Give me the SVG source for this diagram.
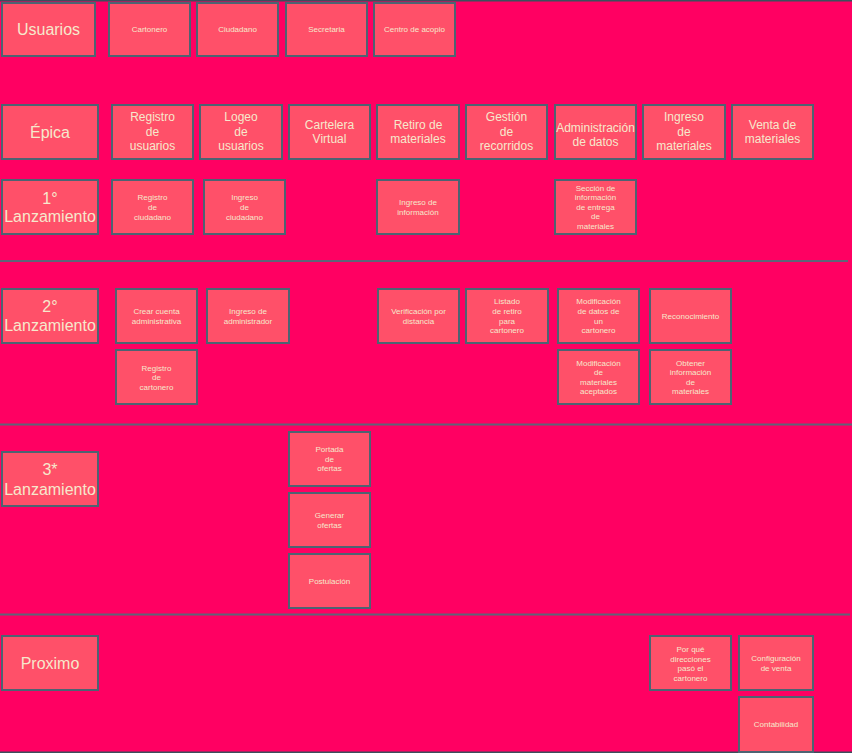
<svg xmlns="http://www.w3.org/2000/svg" width="852" height="753" viewBox="0 0 852 753">
<style>
.bg{fill:#ff0062}
.n rect{fill:#ff5069;stroke:#4d6372;stroke-width:2}
text{font-family:"Liberation Sans",Arial,sans-serif;fill:#f6e8cc;text-anchor:middle}
.big{font-size:16px}
.ep{font-size:12px}
.sm{font-size:8px}
.div{stroke:#5e6478;stroke-width:2}
</style>
<rect class="bg" x="0" y="0" width="852" height="753"/>
<line x1="0" y1="0.75" x2="852" y2="0.75" stroke="#3b4f5c" stroke-width="1.5"/>
<line x1="0" y1="752.25" x2="852" y2="752.25" stroke="#3b4f5c" stroke-width="1.5"/>
<g id="dividers">
<line class="div" x1="0" y1="261" x2="848" y2="261"/>
<line class="div" x1="0" y1="424.5" x2="852" y2="424.5"/>
<line class="div" x1="0" y1="614.5" x2="850" y2="614.5"/>
</g>
<g id="connectors"></g>

<g id="usuarios" class="n"><rect x="2" y="3" width="93" height="53"/><text class="big" x="48.5" y="35">Usuarios</text></g>
<g id="cartonero" class="n"><rect x="109" y="3" width="81" height="53"/><text class="sm" x="149.5" y="32">Cartonero</text></g>
<g id="ciudadano" class="n"><rect x="197" y="3" width="81" height="53"/><text class="sm" x="237.5" y="32">Ciudadano</text></g>
<g id="secretaria" class="n"><rect x="286" y="3" width="81" height="53"/><text class="sm" x="326.5" y="32">Secretaria</text></g>
<g id="centro" class="n"><rect x="374" y="3" width="81" height="53"/><text class="sm" x="414.5" y="32">Centro de acopio</text></g>

<g id="epica" class="n"><rect x="2" y="105" width="96" height="54"/><text class="big" x="50" y="138">Épica</text></g>
<g id="e-registro" class="n"><rect x="112" y="105" width="81" height="54"/><text class="ep" x="152.5" y="121">Registro</text><text class="ep" x="152.5" y="136">de</text><text class="ep" x="152.5" y="150">usuarios</text></g>
<g id="e-logeo" class="n"><rect x="200" y="105" width="82" height="54"/><text class="ep" x="241" y="121">Logeo</text><text class="ep" x="241" y="136">de</text><text class="ep" x="241" y="150">usuarios</text></g>
<g id="e-cartelera" class="n"><rect x="289" y="105" width="81" height="54"/><text class="ep" x="329.5" y="129">Cartelera</text><text class="ep" x="329.5" y="143">Virtual</text></g>
<g id="e-retiro" class="n"><rect x="377" y="105" width="82" height="54"/><text class="ep" x="418" y="129">Retiro de</text><text class="ep" x="418" y="143">materiales</text></g>
<g id="e-gestion" class="n"><rect x="466" y="105" width="81" height="54"/><text class="ep" x="506.5" y="121">Gestión</text><text class="ep" x="506.5" y="136">de</text><text class="ep" x="506.5" y="150">recorridos</text></g>
<g id="e-admin" class="n"><rect x="555" y="105" width="81" height="54"/><text class="ep" x="595.5" y="132">Administración</text><text class="ep" x="595.5" y="146">de datos</text></g>
<g id="e-ingreso" class="n"><rect x="643" y="105" width="82" height="54"/><text class="ep" x="684" y="121">Ingreso</text><text class="ep" x="684" y="136">de</text><text class="ep" x="684" y="150">materiales</text></g>
<g id="e-venta" class="n"><rect x="732" y="105" width="81" height="54"/><text class="ep" x="772.5" y="129">Venta de</text><text class="ep" x="772.5" y="143">materiales</text></g>

<g id="l1" class="n"><rect x="2" y="180" width="96" height="54"/><text class="big" x="50" y="204">1°</text><text class="big" x="50" y="222">Lanzamiento</text></g>
<g id="l1-registro" class="n"><rect x="112" y="180" width="81" height="54"/><text class="sm" x="152.5" y="200">Registro</text><text class="sm" x="152.5" y="210">de</text><text class="sm" x="152.5" y="220">ciudadano</text></g>
<g id="l1-ingreso" class="n"><rect x="204" y="180" width="81" height="54"/><text class="sm" x="244.5" y="200">Ingreso</text><text class="sm" x="244.5" y="210">de</text><text class="sm" x="244.5" y="220">ciudadano</text></g>
<g id="l1-info" class="n"><rect x="377" y="180" width="82" height="54"/><text class="sm" x="418" y="205">Ingreso de</text><text class="sm" x="418" y="215">información</text></g>
<g id="l1-seccion" class="n"><rect x="555" y="180" width="81" height="54"/><text class="sm" x="595.5" y="191">Sección de</text><text class="sm" x="595.5" y="200">información</text><text class="sm" x="595.5" y="210">de entrega</text><text class="sm" x="595.5" y="219">de</text><text class="sm" x="595.5" y="229">materiales</text></g>

<g id="l2" class="n"><rect x="2" y="289" width="96" height="54"/><text class="big" x="50" y="312">2°</text><text class="big" x="50" y="331">Lanzamiento</text></g>
<g id="l2-crear" class="n"><rect x="116" y="289" width="81" height="54"/><text class="sm" x="156.5" y="314">Crear cuenta</text><text class="sm" x="156.5" y="324">administrativa</text></g>
<g id="l2-ingadmin" class="n"><rect x="207" y="289" width="82" height="54"/><text class="sm" x="248" y="314">Ingreso de</text><text class="sm" x="248" y="324">administrador</text></g>
<g id="l2-regcart" class="n"><rect x="116" y="350" width="81" height="54"/><text class="sm" x="156.5" y="371">Registro</text><text class="sm" x="156.5" y="380">de</text><text class="sm" x="156.5" y="390">cartonero</text></g>
<g id="l2-verif" class="n"><rect x="378" y="289" width="81" height="54"/><text class="sm" x="418.5" y="314">Verificación por</text><text class="sm" x="418.5" y="324">distancia</text></g>
<g id="l2-listado" class="n"><rect x="466" y="289" width="82" height="54"/><text class="sm" x="507" y="304">Listado</text><text class="sm" x="507" y="314">de retiro</text><text class="sm" x="507" y="324">para</text><text class="sm" x="507" y="333">cartonero</text></g>
<g id="l2-moddatos" class="n"><rect x="558" y="289" width="81" height="54"/><text class="sm" x="598.5" y="304">Modificación</text><text class="sm" x="598.5" y="314">de datos de</text><text class="sm" x="598.5" y="324">un</text><text class="sm" x="598.5" y="333">cartonero</text></g>
<g id="l2-recon" class="n"><rect x="650" y="289" width="81" height="54"/><text class="sm" x="690.5" y="319">Reconocimiento</text></g>
<g id="l2-modmat" class="n"><rect x="558" y="350" width="81" height="54"/><text class="sm" x="598.5" y="366">Modificación</text><text class="sm" x="598.5" y="375">de</text><text class="sm" x="598.5" y="385">materiales</text><text class="sm" x="598.5" y="394">aceptados</text></g>
<g id="l2-obtener" class="n"><rect x="650" y="350" width="81" height="54"/><text class="sm" x="690.5" y="366">Obtener</text><text class="sm" x="690.5" y="375">información</text><text class="sm" x="690.5" y="385">de</text><text class="sm" x="690.5" y="394">materiales</text></g>

<g id="l3" class="n"><rect x="2" y="452" width="96" height="54"/><text class="big" x="50" y="475">3*</text><text class="big" x="50" y="495">Lanzamiento</text></g>
<g id="l3-portada" class="n"><rect x="289" y="432" width="81" height="54"/><text class="sm" x="329.5" y="452">Portada</text><text class="sm" x="329.5" y="462">de</text><text class="sm" x="329.5" y="471">ofertas</text></g>
<g id="l3-generar" class="n"><rect x="289" y="493" width="81" height="54"/><text class="sm" x="329.5" y="518">Generar</text><text class="sm" x="329.5" y="528">ofertas</text></g>
<g id="l3-postul" class="n"><rect x="289" y="554" width="81" height="54"/><text class="sm" x="329.5" y="584">Postulación</text></g>

<g id="proximo" class="n"><rect x="2" y="636" width="96" height="54"/><text class="big" x="50" y="669">Proximo</text></g>
<g id="p-porque" class="n"><rect x="650" y="636" width="81" height="54"/><text class="sm" x="690.5" y="652">Por qué</text><text class="sm" x="690.5" y="662">direcciones</text><text class="sm" x="690.5" y="671">pasó el</text><text class="sm" x="690.5" y="681">cartonero</text></g>
<g id="p-config" class="n"><rect x="739" y="636" width="74" height="54"/><text class="sm" x="776" y="661">Configuración</text><text class="sm" x="776" y="671">de venta</text></g>
<g id="p-contab" class="n"><rect x="739" y="697" width="74" height="55"/><text class="sm" x="776" y="727">Contabilidad</text></g>
</svg>
